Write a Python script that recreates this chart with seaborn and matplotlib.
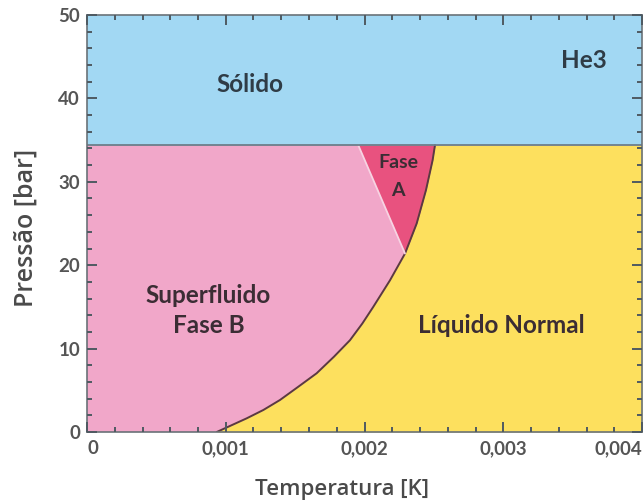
import numpy as np
import pandas as pd
import matplotlib
matplotlib.use("Agg")
import matplotlib.pyplot as plt
from matplotlib.ticker import MultipleLocator, FixedLocator
import seaborn as sns

# Phase boundaries of helium-3 (temperature in K, pressure in bar)
melting_pressure = 34.4
normal_T = [0.000935, 0.001151, 0.001271, 0.001391, 0.001523, 0.001655,
            0.00178, 0.001895, 0.001984, 0.002063, 0.002184, 0.002292,
            0.002376, 0.002443, 0.002491, 0.002508]
normal_p = [0.0, 1.64, 2.64, 3.84, 5.43, 7.04,
            9.03, 11.0, 13.0, 15.0, 18.2, 21.4,
            25.0, 29.0, 32.6, 34.4]
ab_T = [0.001955, 0.002292]
ab_p = [34.4, 21.4]

x_ticks = [0, 0.001, 0.002, 0.003, 0.004]
x_tick_labels = ["0", "0,001", "0,002", "0,003", "0,004"]
y_ticks = [0, 10, 20, 30, 40, 50]

region_labels = [
    ("Sólido", 0.001175, 41.7, 17.5, "#2f3c46"),
    ("He3", 0.00358, 44.6, 17.5, "#2f3c46"),
    ("Superfluido", 0.000876, 16.4, 17.5, "#3b2d34"),
    ("Fase B", 0.000876, 12.8, 17.5, "#3b2d34"),
    ("Líquido Normal", 0.002984, 12.8, 17.5, "#3b2d34"),
    ("Fase", 0.002245, 32.3, 14, "#3b2d34"),
    ("A", 0.00224, 29.0, 14, "#3b2d34"),
]

col_solid = "#a2d8f3"
col_B = "#f1a7c9"
col_A = "#e8527f"
col_normal = "#fde05e"

sns.set_theme(style="ticks")
plt.rcParams["font.family"] = ["Lato", "DejaVu Sans"]

fig = plt.figure(figsize=(6.43, 5.04), dpi=100)
ax = fig.add_axes([87 / 643, 72 / 504, 555 / 643, 417 / 504])
ax.set_axisbelow(False)

xmin, xmax, ymin, ymax = 0, 0.004, 0, 50
df = pd.DataFrame({"T": normal_T, "p": normal_p})

# Regions
ax.fill_between([xmin, xmax], melting_pressure, ymax, color=col_solid, lw=0)
ax.fill_between([xmin, xmax], ymin, melting_pressure, color=col_B, lw=0)
ax.fill_betweenx(df["p"], df["T"], xmax, color=col_normal, lw=0)

# A phase wedge between the A-B transition and the normal boundary
sel = df[df["p"] >= ab_p[1]]
left = np.interp(sel["p"], ab_p[::-1], ab_T[::-1])
ax.fill_betweenx(sel["p"], left, sel["T"], color=col_A, lw=0)

# Boundary lines
sns.lineplot(data=df, x="T", y="p", sort=False, color="#5b3a40", lw=1.4, ax=ax,
             estimator=None)
sns.lineplot(x=ab_T, y=ab_p, sort=False, color="#f7d3e2", lw=1.3, ax=ax,
             estimator=None)
ax.axhline(melting_pressure, color="#6c7f8a", lw=1.3)

for txt, tx, ty, fs, c in region_labels:
    ax.text(tx, ty, txt, ha="center", va="center", fontsize=fs,
            fontweight="bold", color=c)

ax.set_xlim(xmin, xmax)
ax.set_ylim(ymin, ymax)
ax.xaxis.set_major_locator(FixedLocator(x_ticks))
ax.set_xticklabels(x_tick_labels)
ax.yaxis.set_major_locator(FixedLocator(y_ticks))
ax.xaxis.set_minor_locator(MultipleLocator(0.0002))
ax.yaxis.set_minor_locator(MultipleLocator(2))
ax.tick_params(which="both", direction="in", top=True, right=True,
               color="#4f5a62", labelcolor="#555555", labelsize=13.5)
ax.tick_params(which="major", length=7, width=1.4)
ax.tick_params(which="minor", length=3.5, width=1.4)
ax.tick_params(axis="x", pad=6)
ax.tick_params(axis="y", pad=5)
labels = ax.get_xticklabels()
labels[-1].set_horizontalalignment("right")
labels[0].set_horizontalalignment("left")
for lab in ax.get_xticklabels() + ax.get_yticklabels():
    lab.set_fontweight("bold")

for s in ax.spines.values():
    s.set_color("#6a7278")
    s.set_linewidth(1.2)

axis_font = ["Open Sans", "DejaVu Sans"]
ax.set_xlabel("Temperatura [K]", fontsize=16, color="#4a4a4a", va="center",
              family=axis_font, fontweight="semibold")
ax.set_ylabel("Pressão [bar]", fontsize=18, color="#4a4a4a", va="center",
              family=axis_font, fontweight="semibold")
ax.xaxis.set_label_coords(0.46, -0.139)
ax.yaxis.set_label_coords(-0.11, 0.49)

fig.savefig("out.png", dpi=100)
